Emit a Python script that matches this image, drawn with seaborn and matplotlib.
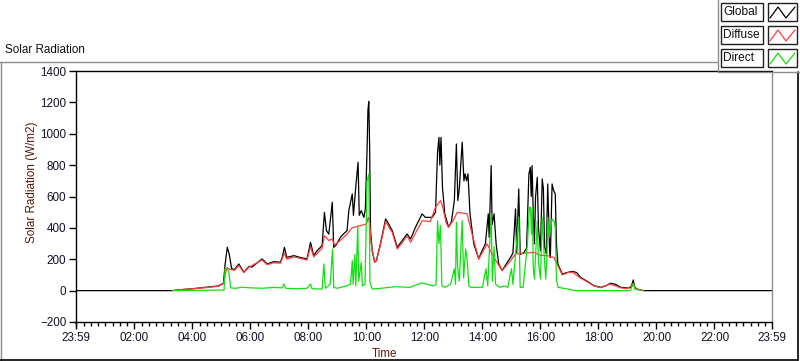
import numpy as np
import pandas as pd
import matplotlib
matplotlib.use("Agg")
import matplotlib.pyplot as plt
import seaborn as sns
from matplotlib.patches import Rectangle
from matplotlib.lines import Line2D
from matplotlib.ticker import MultipleLocator

# --- data (time in hours, radiation in W/m2) ---
global_hours = [-0.02, 3.30, 3.60, 4.00, 4.50, 4.90, 5.07, 5.12, 5.20, 5.27, 5.35, 5.45, 5.60, 5.77,
                5.95, 6.05, 6.40, 6.58, 6.80, 7.03, 7.10, 7.17, 7.25, 7.50, 7.70, 7.95, 8.07, 8.18,
                8.30, 8.47, 8.55, 8.62, 8.70, 8.82, 8.87, 8.95, 9.10, 9.20, 9.33, 9.39, 9.51, 9.55,
                9.64, 9.71, 9.75, 9.82, 9.91, 9.96, 10.02, 10.05, 10.08, 10.11, 10.14, 10.20, 10.28,
                10.34, 10.48, 10.66, 10.75, 10.89, 11.06, 11.23, 11.40, 11.52, 11.69, 11.92, 12.03,
                12.27, 12.38, 12.45, 12.50, 12.53, 12.57, 12.62, 12.70, 12.83, 12.93, 13.03, 13.10,
                13.15, 13.20, 13.30, 13.36, 13.40, 13.45, 13.50, 13.57, 13.70, 13.87, 13.95, 14.10,
                14.20, 14.23, 14.30, 14.33, 14.40, 14.47, 14.56, 14.68, 14.80, 14.97, 15.05, 15.14,
                15.18, 15.25, 15.30, 15.43, 15.52, 15.60, 15.65, 15.68, 15.71, 15.75, 15.79, 15.83,
                15.89, 15.93, 16.00, 16.06, 16.10, 16.14, 16.20, 16.25, 16.31, 16.34, 16.40, 16.45,
                16.51, 16.55, 16.60, 16.75, 16.95, 17.10, 17.25, 17.38, 17.67, 17.84, 18.07, 18.25,
                18.41, 18.59, 18.76, 18.99, 19.12, 19.20, 19.25, 19.33, 19.56, 23.98]
global_wm2 = [0, 0, 6, 12, 22, 30, 48, 160, 276, 230, 140, 135, 170, 117,
              155, 150, 202, 170, 185, 181, 215, 276, 212, 223, 212, 202, 308, 223,
              255, 287, 499, 382, 360, 563, 276, 290, 340, 360, 382, 510, 616, 480,
              680, 818, 480, 510, 467, 520, 900, 1150, 1205, 900, 382, 250, 181,
              191, 298, 457, 430, 382, 276, 319, 361, 329, 404, 489, 467,
              467, 499, 882, 977, 800, 977, 659, 489, 404, 440, 574, 935,
              574, 648, 946, 700, 744, 700, 744, 489, 298, 202, 240, 298,
              489, 340, 797, 420, 489, 298, 170, 128, 165, 212, 240, 521,
              240, 648, 230, 244, 270, 744, 786, 600, 797, 500, 298, 600,
              722, 400, 255, 712, 650, 280, 235, 680, 280, 210, 680, 640,
              616, 300, 170, 106, 117, 123, 115, 85, 53, 32, 21, 30,
              47, 40, 21, 17, 20, 68, 20, 10, 0, 0]

diffuse_hours = [3.30, 3.60, 4.00, 4.50, 4.90, 5.07, 5.15, 5.20, 5.30, 5.45, 5.60, 5.77, 5.95,
                 6.40, 6.58, 6.80, 7.03, 7.17, 7.25, 7.50, 7.95, 8.07, 8.18, 8.47, 8.55, 8.70, 8.82,
                 8.90, 9.10, 9.33, 9.50, 9.79, 10.00, 10.06, 10.11, 10.16, 10.28, 10.34, 10.48,
                 10.66, 10.89, 11.06, 11.23, 11.40, 11.52, 11.92, 12.20, 12.38, 12.55, 12.62, 12.75,
                 12.83, 13.00, 13.13, 13.47, 13.64, 13.87, 14.16, 14.39, 14.68, 14.97, 15.14,
                 15.54, 15.77, 16.00, 16.23, 16.46, 16.57, 16.75, 16.95, 17.10, 17.38, 17.67,
                 17.84, 18.07, 18.41, 18.76, 18.99, 19.20, 19.33, 19.56]
diffuse_wm2 = [0, 6, 12, 20, 28, 45, 120, 145, 135, 130, 160, 115, 150,
               195, 165, 178, 175, 238, 200, 215, 195, 280, 215, 270, 350, 320, 330,
               290, 320, 361, 400, 414, 425, 467, 430, 298, 185, 185, 290,
               440, 370, 265, 305, 350, 308, 446, 440, 531, 574, 540, 430,
               404, 450, 499, 490, 361, 202, 298, 212, 128, 191, 234,
               240, 244, 225, 223, 212, 170, 100, 115, 118, 80, 50,
               30, 18, 42, 18, 12, 40, 8, 0]

direct_hours = [3.30, 5.09, 5.12, 5.20, 5.25, 5.32, 5.50, 5.70, 6.00, 6.40, 6.80, 7.10, 7.15, 7.22,
                7.60, 7.95, 8.07, 8.12, 8.47, 8.53, 8.58, 8.75, 8.83, 8.87, 9.00, 9.30, 9.45, 9.51,
                9.54, 9.60, 9.63, 9.70, 9.73, 9.82, 9.86, 9.95, 10.02, 10.08, 10.12, 10.20, 10.50,
                11.00, 11.50, 11.90, 12.30, 12.40, 12.45, 12.50, 12.55, 12.60, 12.70, 12.90, 13.03,
                13.07, 13.10, 13.14, 13.20, 13.25, 13.30, 13.35, 13.42, 13.47, 13.53, 13.60, 14.00,
                14.12, 14.18, 14.30, 14.34, 14.40, 14.45, 14.60, 14.75, 14.87, 15.00, 15.05, 15.25,
                15.30, 15.40, 15.55, 15.62, 15.66, 15.69, 15.72, 15.75, 15.79, 15.89, 15.93, 16.00,
                16.06, 16.12, 16.18, 16.22, 16.25, 16.30, 16.40, 16.47, 16.51, 16.55, 16.60, 16.95,
                17.20, 19.10, 19.20, 19.25, 19.50]
direct_wm2 = [0, 4, 138, 145, 120, 17, 15, 22, 18, 15, 20, 18, 42, 15,
              12, 15, 42, 12, 10, 170, 15, 40, 265, 20, 15, 30, 40, 191,
              40, 230, 30, 414, 60, 180, 30, 40, 701, 744, 53, 10, 15,
              25, 21, 49, 30, 40, 446, 300, 414, 30, 21, 40, 140,
              40, 436, 160, 60, 250, 446, 80, 265, 200, 30, 21, 21,
              140, 30, 489, 60, 280, 40, 21, 30, 21, 140, 40, 467,
              21, 20, 300, 531, 531, 360, 531, 150, 74, 446, 180, 74,
              467, 250, 74, 200, 467, 340, 457, 440, 400, 74, 21, 10,
              0, 0, 47, 10, 0]

series_names = ["Global", "Diffuse", "Direct"]
series_colors = ["#000000", "#ff3c3c", "#10e010"]
tick_hours = [-1 / 60, 2, 4, 6, 8, 10, 12, 14, 16, 18, 20, 22, 23 + 59 / 60]
tick_labels = ["23:59", "02:00", "04:00", "06:00", "08:00", "10:00", "12:00",
               "14:00", "16:00", "18:00", "20:00", "22:00", "23:59"]

sns.set_style("white")
plt.rcParams["font.family"] = ["Liberation Sans", "DejaVu Sans"]
W, H = 800, 361


def fx(x):
    return x / W


def fy(y):
    return 1 - y / H


fig = plt.figure(figsize=(W / 100, H / 100), dpi=100)
ax = fig.add_axes([fx(76), fy(322), fx(772) - fx(76), fy(71) - fy(322)])

series = [(global_hours, global_wm2), (diffuse_hours, diffuse_wm2), (direct_hours, direct_wm2)]
for (hrs, vals), name, col in zip(series, series_names, series_colors):
    df = pd.DataFrame({"Time": np.array(hrs) * 60, "Radiation": vals})
    sns.lineplot(data=df, x="Time", y="Radiation", color=col, linewidth=0.9,
                 estimator=None, sort=False, ax=ax, legend=False)

ax.set_xlim(-1, 1439)
ax.set_ylim(-200, 1400)
ax.set_yticks(range(-200, 1401, 200))
ax.set_xticks([h * 60 for h in tick_hours])
ax.set_xticklabels(tick_labels)
ax.xaxis.set_minor_locator(MultipleLocator(15))
ax.set_xlabel("")
ax.set_ylabel("")
ax.tick_params(axis="both", which="major", direction="out", length=5, width=1,
               color="black", labelsize=8.4, pad=2, labelcolor="#101028")
ax.tick_params(axis="x", which="minor", direction="out", length=3, width=1,
               color="black", bottom=True)
ax.tick_params(bottom=True, left=True)
for side in ["left", "bottom", "top"]:
    ax.spines[side].set_color("black")
    ax.spines[side].set_linewidth(1)
ax.spines["right"].set_color("#8c8c8c")
ax.spines["right"].set_linewidth(1)

fig.text(fx(5), fy(50), "Solar Radiation", fontsize=8.4, va="center", ha="left", color="#101010")
fig.text(fx(32), fy(182), "Solar Radiation (W/m2)", rotation=90, fontsize=8.4,
         va="center", ha="center", color="#5a1a08")
fig.text(fx(385), fy(354), "Time", fontsize=8.4, va="center", ha="center", color="#5a1a08")

# outer panel frame
fig.add_artist(Line2D([fx(0), fx(717)], [fy(62), fy(62)], color="#8c8c8c", lw=1))
fig.add_artist(Line2D([fx(0.5), fx(0.5)], [fy(62), fy(361)], color="#8c8c8c", lw=1))
fig.add_artist(Line2D([fx(0), fx(798)], [fy(360), fy(360)], color="black", lw=1.2))
fig.add_artist(Line2D([fx(797.5), fx(797.5)], [fy(72), fy(360)], color="black", lw=1.2))

# legend block
fig.add_artist(Line2D([fx(717.5), fx(717.5)], [fy(0), fy(72)], color="#8c8c8c", lw=1))
fig.add_artist(Line2D([fx(717.5), fx(800)], [fy(71.5), fy(71.5)], color="#8c8c8c", lw=1))
row_tops = [3, 26, 49]
for top, name, col in zip(row_tops, series_names, series_colors):
    h = 18
    fig.add_artist(Rectangle((fx(721), fy(top + h)), fx(763) - fx(721), fy(top) - fy(top + h),
                             transform=fig.transFigure, facecolor="white",
                             edgecolor="#202020", lw=1))
    fig.add_artist(Rectangle((fx(768), fy(top + h)), fx(797) - fx(768), fy(top) - fy(top + h),
                             transform=fig.transFigure, facecolor="white",
                             edgecolor="#202020", lw=1))
    fig.text(fx(723), fy(top + h / 2), name, fontsize=8.6, va="center", ha="left", color="#101010")
    zx = [fx(770), fx(778), fx(786), fx(795)]
    zy = [fy(top + 15), fy(top + 4), fy(top + 15), fy(top + 4)]
    fig.add_artist(Line2D(zx, zy, color=col, lw=0.9))

fig.savefig("out.png", dpi=100, facecolor="white")
